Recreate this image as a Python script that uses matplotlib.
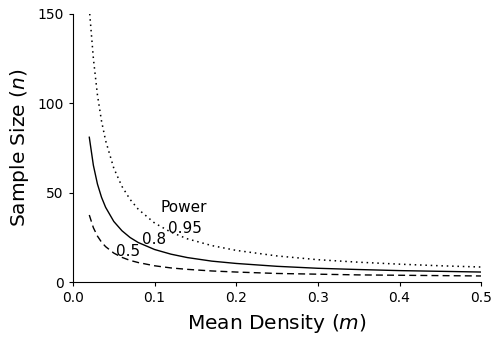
import matplotlib
matplotlib.use("Agg")
import matplotlib.pyplot as plt

# mean density values where the curves were read
m = [0.02, 0.025, 0.03, 0.035, 0.04, 0.05, 0.06, 0.07, 0.08, 0.1,
     0.12, 0.14, 0.17, 0.2, 0.25, 0.3, 0.35, 0.4, 0.45, 0.5]

# sample size for each power level
n_095 = [153.0, 125.1, 104.6, 90.0, 79.1, 63.7, 53.5, 46.2, 40.7, 33.0,
         27.9, 24.2, 20.4, 17.7, 14.6, 12.5, 11.1, 10.0, 9.1, 8.4]
n_08 = [81.0, 65.3, 54.8, 47.4, 41.8, 33.9, 28.7, 24.9, 22.1, 18.2,
        15.6, 13.7, 11.7, 10.4, 8.8, 7.7, 7.0, 6.4, 6.0, 5.6]
n_05 = [37.5, 30.4, 25.7, 22.3, 19.8, 16.2, 13.8, 12.1, 10.9, 9.1,
        7.9, 7.1, 6.2, 5.6, 4.8, 4.4, 4.0, 3.8, 3.6, 3.4]

xticks = [0.0, 0.1, 0.2, 0.3, 0.4, 0.5]
yticks = [0, 50, 100, 150]

fig = plt.figure(figsize=(4.93, 3.39), dpi=100)
ax = fig.add_axes([0.148, 0.168, 0.828, 0.791])

ax.plot(m, n_095, color='black', lw=1.1, linestyle=(0, (1, 2.5)))
ax.plot(m, n_08, color='black', lw=1.0, linestyle='-')
ax.plot(m, n_05, color='black', lw=1.0, linestyle=(0, (5, 3)))

ax.text(0.107, 41.5, 'Power', fontsize=11, va='center', ha='left')
ax.text(0.117, 30, '0.95', fontsize=11, va='center', ha='left')
ax.text(0.085, 24, '0.8', fontsize=11, va='center', ha='left')
ax.text(0.053, 17, '0.5', fontsize=11, va='center', ha='left')

ax.set_xlim(0, 0.5)
ax.set_ylim(0, 150)
ax.set_xticks(xticks)
ax.set_xticklabels(['%.1f' % v for v in xticks])
ax.set_yticks(yticks)
ax.tick_params(labelsize=10, length=3, width=0.8)
for s in ['top', 'right']:
    ax.spines[s].set_visible(False)
ax.spines['left'].set_linewidth(0.8)
ax.spines['bottom'].set_linewidth(0.8)

ax.set_xlabel('Mean Density ($m$)', fontsize=14.5, labelpad=5)
ax.set_ylabel('Sample Size ($n$)', fontsize=14.5, labelpad=5)

fig.savefig('out.png', dpi=100)
